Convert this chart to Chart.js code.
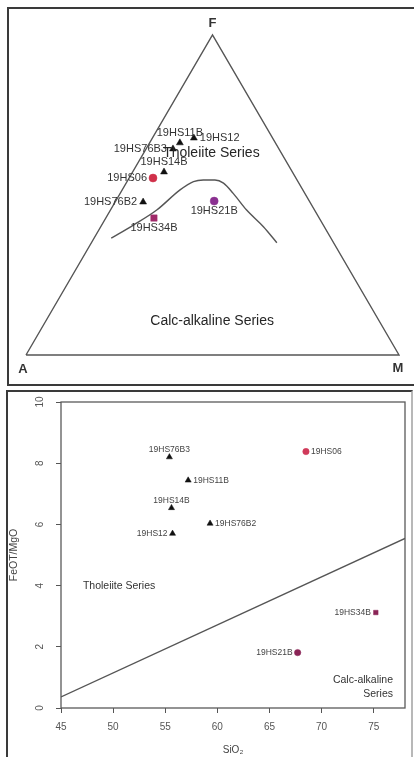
<!DOCTYPE html>
<html>
<head>
<meta charset="utf-8">
<script src="https://cdn.jsdelivr.net/npm/chart.js@4.4.1/dist/chart.umd.min.js"></script>
<style>
  html, body { margin: 0; padding: 0; background: #fff; }
  body { width: 414px; height: 757px; position: relative; overflow: hidden; }
  .frame { position: absolute; box-sizing: border-box; }
  #afmFrame { left: 7px; top: 7px; width: 420px; height: 379px; border: 2px solid #3a3a3a; }
  #ratioFrame { left: 6px; top: 390px; width: 407px; height: 420px; border: 2px solid #3a3a3a; border-right-color: #b8b8b8; }
  canvas { position: absolute; }
  #afm { left: 0; top: 0; }
  #ratio { left: 0; top: 391px; }
</style>
</head>
<body>
<div class="frame" id="afmFrame"></div>
<div class="frame" id="ratioFrame"></div>
<canvas id="afm" width="414" height="385"></canvas>
<canvas id="ratio" width="414" height="366"></canvas>
<script>
// ---- sample data ----
const samples = ['19HS11B', '19HS12', '19HS76B3', '19HS14B', '19HS06', '19HS76B2', '19HS34B', '19HS21B'];

// AFM components (A = Na2O+K2O, F = FeOT, M = MgO), normalised to 100
const afmA = [25.6, 21.1, 28.4, 34.4, 38.3, 44.7, 44.3, 25.5];
const afmF = [66.3, 67.8, 64.4, 57.2, 55.3, 47.8, 42.8, 48.1];
const afmM = [8.1, 11.1, 7.2, 8.4, 6.4, 7.5, 12.9, 26.4];

// tholeiite / calc-alkaline boundary in the AFM triangle
const boundaryA = [58.9, 50.9, 42.3, 32.9, 28.0, 25.1, 22.0, 20.2, 19.2, 18.2, 16.3, 15.2];
const boundaryF = [36.5, 40.6, 45.3, 51.6, 54.2, 54.7, 54.7, 53.7, 50.5, 45.3, 40.1, 35.1];
const boundaryM = [4.6, 8.5, 12.4, 15.5, 17.8, 20.2, 23.3, 26.1, 30.3, 36.5, 43.6, 49.7];

// SiO2 vs FeOT/MgO
const sio2 = [57.2, 55.7, 55.4, 55.6, 68.5, 59.3, 75.2, 67.7];
const feoMgo = [7.44, 5.70, 8.20, 6.54, 8.38, 6.03, 3.12, 1.81];

// Miyashiro dividing line end points
const lineSiO2 = [45, 78];
const lineRatio = [0.36, 5.54];

// axis ticks
const sio2Ticks = [45, 50, 55, 60, 65, 70, 75];
const ratioTicks = [0, 2, 4, 6, 8, 10];

// ---- styling ----
const FONT = '"Liberation Sans", Arial, Helvetica, sans-serif';
const markerStyle = ['triangle', 'triangle', 'triangle', 'triangle', 'circle', 'triangle', 'rect', 'circle'];
const markerColor = ['#111', '#111', '#111', '#111', '#d0304a', '#111', '#a02a6a', '#8a3090'];
const ratioMarkerColor = ['#111', '#111', '#111', '#111', '#d03a5a', '#111', '#8a2456', '#8a2456'];
// label side: 1 below, 2 left, 3 above, 4 right
const afmLabelSide = [3, 4, 2, 3, 2, 2, 1, 1];
const ratioLabelSide = [4, 2, 3, 3, 4, 4, 2, 2];

const SQ3 = Math.sqrt(3) / 2;
function ternaryXY(a, f, m) {
  const s = a + f + m;
  return { x: (m + f / 2) / s * 100, y: f / s * 100 * SQ3 };
}

function drawLabel(ctx, text, px, py, side, dx, dy) {
  ctx.textBaseline = 'middle';
  if (side === 1) { ctx.textAlign = 'center'; ctx.fillText(text, px, py + dy); }
  else if (side === 2) { ctx.textAlign = 'right'; ctx.fillText(text, px - dx, py); }
  else if (side === 3) { ctx.textAlign = 'center'; ctx.fillText(text, px, py - dy); }
  else { ctx.textAlign = 'left'; ctx.fillText(text, px + dx, py); }
}

// ---- AFM ternary diagram ----
const corners = [[100, 0, 0], [0, 0, 100], [0, 100, 0], [100, 0, 0]];
const trianglePts = corners.map(c => ternaryXY(c[0], c[1], c[2]));
const boundaryPts = boundaryA.map((a, i) => ternaryXY(a, boundaryF[i], boundaryM[i]));
const afmPts = afmA.map((a, i) => ternaryXY(a, afmF[i], afmM[i]));

const afmText = {
  id: 'afmText',
  afterDatasetsDraw(chart) {
    const { ctx, scales: { x, y } } = chart;
    ctx.save();
    // sample names
    ctx.fillStyle = '#333';
    ctx.font = '11px ' + FONT;
    chart.getDatasetMeta(2).data.forEach((pt, i) => {
      drawLabel(ctx, samples[i], pt.x, pt.y, afmLabelSide[i], 6, 10);
    });
    // field names
    ctx.fillStyle = '#262626';
    ctx.font = '14px ' + FONT;
    ctx.textAlign = 'center';
    ctx.textBaseline = 'middle';
    ctx.fillText('Tholeiite Series', x.getPixelForValue(49.7), y.getPixelForValue(54.7));
    ctx.fillText('Calc-alkaline Series', x.getPixelForValue(49.9), y.getPixelForValue(9.2));
    // apices
    ctx.font = 'bold 13px ' + FONT;
    ctx.fillStyle = '#333';
    const tA = trianglePts[0], tM = trianglePts[1], tF = trianglePts[2];
    ctx.fillText('F', x.getPixelForValue(tF.x), y.getPixelForValue(tF.y) - 12);
    ctx.fillText('A', x.getPixelForValue(tA.x) - 3, y.getPixelForValue(tA.y) + 14);
    ctx.fillText('M', x.getPixelForValue(tM.x) - 1, y.getPixelForValue(tM.y) + 13);
    ctx.restore();
  }
};

new Chart(document.getElementById('afm'), {
  type: 'scatter',
  data: {
    datasets: [
      {
        data: trianglePts, showLine: true, borderColor: '#555', borderWidth: 1.4,
        pointRadius: 0, clip: false
      },
      {
        data: boundaryPts, showLine: true, borderColor: '#555', borderWidth: 1.4,
        cubicInterpolationMode: 'monotone', pointRadius: 0, clip: false
      },
      {
        data: afmPts, showLine: false, pointStyle: markerStyle,
        pointRadius: markerStyle.map(s => s === 'triangle' ? 4 : (s === 'rect' ? 4.5 : 4)),
        backgroundColor: markerColor, borderColor: markerColor, borderWidth: 0.5, clip: false
      }
    ]
  },
  options: {
    responsive: false, animation: false, devicePixelRatio: 1, events: [],
    layout: { padding: { left: 26, right: 15, top: 35, bottom: 30 } },
    scales: {
      x: { type: 'linear', min: 0, max: 100, display: false },
      y: { type: 'linear', min: 0, max: 100 * SQ3, display: false }
    },
    plugins: { legend: { display: false }, tooltip: { enabled: false } }
  },
  plugins: [afmText]
});

// ---- SiO2 vs FeOT/MgO ----
const ratioText = {
  id: 'ratioText',
  beforeDatasetsDraw(chart) {
    const { ctx, chartArea: a } = chart;
    ctx.save();
    ctx.strokeStyle = '#5a5a5a';
    ctx.lineWidth = 1.3;
    ctx.strokeRect(a.left, a.top, a.right - a.left, a.bottom - a.top);
    ctx.restore();
  },
  afterDatasetsDraw(chart) {
    const { ctx, scales: { x, y } } = chart;
    ctx.save();
    ctx.fillStyle = '#444';
    ctx.font = '8.5px ' + FONT;
    chart.getDatasetMeta(1).data.forEach((pt, i) => {
      drawLabel(ctx, samples[i], pt.x, pt.y, ratioLabelSide[i], 5, 7);
    });
    ctx.fillStyle = '#333';
    ctx.font = '10.5px ' + FONT;
    ctx.textBaseline = 'middle';
    ctx.textAlign = 'left';
    ctx.fillText('Tholeiite Series', x.getPixelForValue(47.1), y.getPixelForValue(3.98));
    ctx.textAlign = 'right';
    ctx.fillText('Calc-alkaline', x.getPixelForValue(76.85), y.getPixelForValue(0.9));
    ctx.fillText('Series', x.getPixelForValue(76.85), y.getPixelForValue(0.47));
    ctx.restore();
  }
};

new Chart(document.getElementById('ratio'), {
  type: 'scatter',
  data: {
    datasets: [
      {
        data: lineSiO2.map((s, i) => ({ x: s, y: lineRatio[i] })),
        showLine: true, borderColor: '#555', borderWidth: 1.4, pointRadius: 0
      },
      {
        data: sio2.map((s, i) => ({ x: s, y: feoMgo[i] })),
        pointStyle: markerStyle,
        pointRadius: markerStyle.map(s => s === 'triangle' ? 3.5 : 3.2),
        backgroundColor: ratioMarkerColor, borderColor: ratioMarkerColor, borderWidth: 0.5, clip: false
      }
    ]
  },
  options: {
    responsive: false, animation: false, devicePixelRatio: 1, events: [],
    layout: { padding: { left: 0, right: 9, top: 11, bottom: 0 } },
    scales: {
      x: {
        type: 'linear', min: 45, max: 78,
        afterBuildTicks: s => { s.ticks = sio2Ticks.map(v => ({ value: v })); },
        afterFit: s => { s.height = 49; s.paddingLeft = 0; s.paddingRight = 0; },
        border: { display: false },
        grid: { drawOnChartArea: false, drawTicks: true, tickLength: 5, tickColor: '#555', tickWidth: 1 },
        ticks: { color: '#555', font: { family: FONT, size: 10 }, padding: 8, maxRotation: 0 },
        title: { display: true, text: 'SiO₂', color: '#444', font: { family: FONT, size: 10 }, padding: { top: 0, bottom: 1 } }
      },
      y: {
        type: 'linear', min: 0, max: 10,
        afterBuildTicks: s => { s.ticks = ratioTicks.map(v => ({ value: v })); },
        afterFit: s => { s.width = 61; s.paddingTop = 0; s.paddingBottom = 0; },
        border: { display: false },
        grid: { drawOnChartArea: false, drawTicks: true, tickLength: 5, tickColor: '#555', tickWidth: 1 },
        ticks: { color: '#555', font: { family: FONT, size: 10 }, padding: 10, minRotation: 90, maxRotation: 90, crossAlign: 'center' },
        title: { display: true, text: 'FeOT/MgO', color: '#444', font: { family: FONT, size: 10.5 }, padding: { top: 7.5, bottom: 0 } }
      }
    },
    plugins: { legend: { display: false }, tooltip: { enabled: false } }
  },
  plugins: [ratioText]
});
</script>
</body>
</html>
